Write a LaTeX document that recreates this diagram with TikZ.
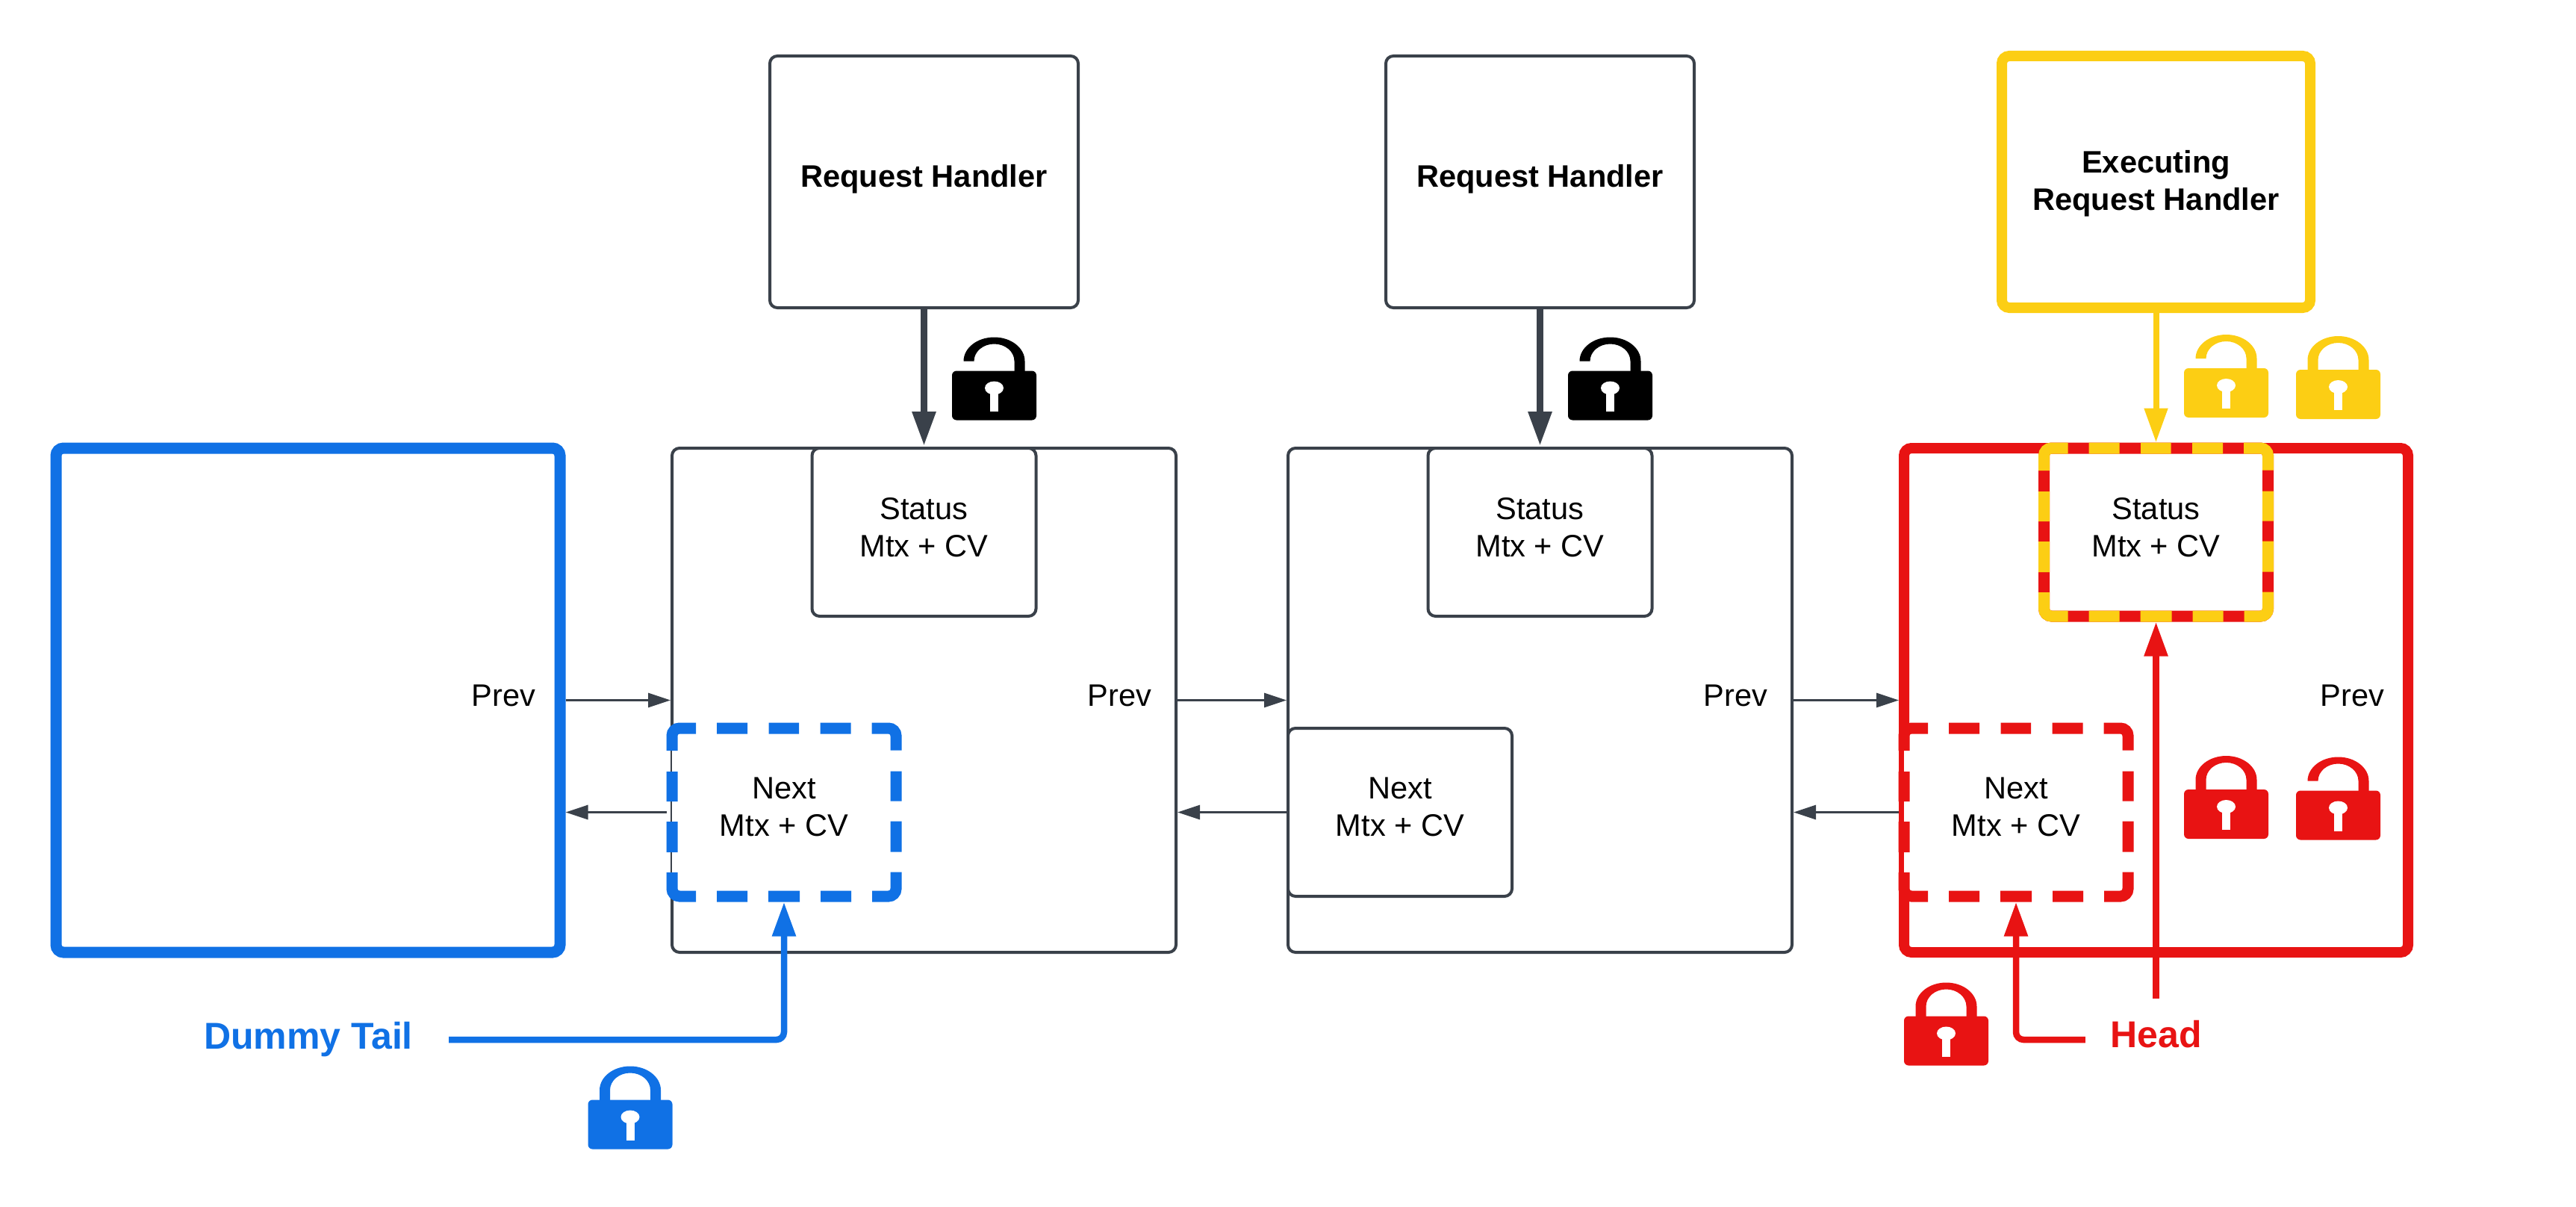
\documentclass[tikz,border=0pt]{standalone}
\usepackage{fontspec}
\setmainfont{Liberation Sans}
\usetikzlibrary{positioning, arrows.meta}

\definecolor{boxgray}{HTML}{3A414A}
\definecolor{tailblue}{HTML}{1071E5}
\definecolor{headred}{HTML}{E81313}
\definecolor{execyellow}{HTML}{FCCE14}

\tikzset{
  plaintext/.style={font=\fontsize{20.8}{25}\selectfont, align=center, text=black},
  listbox/.style={draw=boxgray, line width=2pt, rounded corners=5pt,
    minimum width=337.5pt, minimum height=337.5pt},
  handlerbox/.style={listbox, font=\fontsize{20.8}{25}\selectfont\bfseries, align=center,
    minimum width=206.5pt, minimum height=168.5pt},
  mtxbox/.style={plaintext, rounded corners=5pt, fill=white, outer sep=0pt, text depth=7pt,
    minimum width=150pt, minimum height=112.5pt},
  thinarrow/.style={draw=boxgray, line width=1.5pt, -{Triangle[length=15pt,width=9.5pt]}},
  thickarrow/.style={line width=4.25pt, rounded corners=5pt, -{Triangle[length=23pt,width=15pt]}},
  biglabel/.style={font=\fontsize{25}{28}\selectfont\bfseries, inner sep=0pt},
  % one pattern for the whole outline, starting at the middle of the top side
  sidedash/.style={line width=7.5pt, rounded corners=5pt,
    dash pattern=on 10.25pt off 14.25pt on 20.5pt off 14pt on 28.85pt off 14pt on 20pt off 13.5pt
    on 20.5pt off 13.5pt on 29.85pt off 14pt on 20.5pt off 14pt on 21pt off 14pt on 20.5pt off 14pt
    on 29.85pt off 13.5pt on 20.5pt off 13.5pt on 20pt off 14pt on 28.85pt off 14pt on 20.5pt
    off 14.25pt on 10.25pt off 0pt},
  pics/lockshut/.style={code={
    \fill[#1] (-20.5pt,16pt) -- (-20.5pt,23pt)
      arc[start angle=180, delta angle=-180, x radius=20.5pt, y radius=16pt]
      -- (20.5pt,16pt) -- (13.5pt,16pt) -- (13.5pt,23pt)
      arc[start angle=0, delta angle=180, x radius=13.5pt, y radius=11.5pt]
      -- (-13.5pt,16pt) -- cycle;
    \fill[#1, rounded corners=3pt] (-28.25pt,-16.5pt) rectangle (28.25pt,16.5pt);
    \fill[white] (0pt,5pt) ellipse[x radius=6.25pt, y radius=4.5pt];
    \fill[white] (-2.75pt,-10.5pt) rectangle (2.75pt,5pt);
  }},
  pics/lockopen/.style={code={
    \fill[#1] (-20.5pt,23pt) arc[start angle=180, delta angle=-180, x radius=20.5pt, y radius=16pt]
      -- (20.5pt,16pt) -- (13.5pt,16pt) -- (13.5pt,23pt)
      arc[start angle=0, delta angle=180, x radius=13.5pt, y radius=11.5pt] -- cycle;
    \fill[#1, rounded corners=3pt] (-28.25pt,-16.5pt) rectangle (28.25pt,16.5pt);
    \fill[white] (0pt,5pt) ellipse[x radius=6.25pt, y radius=4.5pt];
    \fill[white] (-2.75pt,-10.5pt) rectangle (2.75pt,5pt);
  }},
}

\newcommand{\mtxoutline}[2]{%
  \draw[#2] (#1.north) -| (#1.west) |- (#1.south) -| (#1.east) |- (#1.north);}

\begin{document}
\begin{tikzpicture}
\useasboundingbox (0pt,0pt) rectangle (1725pt,-808pt);

% list nodes
\node[listbox, draw=tailblue, line width=7.5pt] (n1) at (206.25pt,-468.75pt) {};
\node[listbox, right=70.25pt of n1] (n2) {};
\node[listbox, right=73pt of n2] (n3) {};
\node[listbox, draw=headred, line width=7pt, right=70.5pt of n3] (n4) {};

% request handlers
\node[handlerbox, text depth=8.5pt, above=92pt of n2] (h2) {Request Handler};
\node[handlerbox, text depth=8.5pt, above=92pt of n3] (h3) {Request Handler};
\node[handlerbox, text depth=2pt, draw=execyellow, line width=7pt, above=87pt of n4] (h4) {Executing\\Request Handler};

% status mutexes
\node[mtxbox, draw=boxgray, line width=2pt] (s2) at ([yshift=112.5pt]n2.center) {Status\\Mtx + CV};
\node[mtxbox, draw=boxgray, line width=2pt] (s3) at ([yshift=112.5pt]n3.center) {Status\\Mtx + CV};
\node[mtxbox, draw=headred, line width=7.5pt] (s4) at ([yshift=112.5pt]n4.center) {Status\\Mtx + CV};
\mtxoutline{s4}{sidedash, execyellow}

% next mutexes
\node[mtxbox] (x2) at ([shift={(-93.75pt,-75pt)}]n2.center) {Next\\Mtx + CV};
\node[mtxbox, draw=boxgray, line width=2pt] (x3) at ([shift={(-93.75pt,-75pt)}]n3.center) {Next\\Mtx + CV};
\node[mtxbox] (x4) at ([shift={(-93.75pt,-75pt)}]n4.center) {Next\\Mtx + CV};
\mtxoutline{x2}{sidedash, tailblue}
\mtxoutline{x4}{sidedash, headred}

% prev labels
\node[plaintext, inner sep=0pt, anchor=base east] (p1) at ([shift={(-20pt,-4pt)}]n1.east) {Prev};
\node[plaintext, inner sep=0pt, anchor=base east] (p2) at ([shift={(-17.25pt,-4pt)}]n2.east) {Prev};
\node[plaintext, inner sep=0pt, anchor=base east] (p3) at ([shift={(-17.25pt,-4pt)}]n3.east) {Prev};
\node[plaintext, inner sep=0pt, anchor=base east] (p4) at ([shift={(-19.25pt,-4pt)}]n4.east) {Prev};

% links between the list nodes
\draw[thinarrow] (n1.east) -- (n2.west);
\draw[thinarrow] (n2.east) -- (n3.west);
\draw[thinarrow] (n3.east) -- (n4.west);
\draw[thinarrow, shorten <=3.75pt] (x2.west) -- (n1.east |- x2.west);
\draw[thinarrow] (x3.west) -- (n2.east |- x3.west);
\draw[thinarrow, shorten <=3.75pt] (x4.west) -- (n3.east |- x4.west);

% handlers to status
\draw[thickarrow, draw=boxgray, line width=4.5pt, shorten >=1.5pt] (h2.south) -- (s2.north);
\draw[thickarrow, draw=boxgray, line width=4.5pt, shorten >=1.5pt] (h3.south) -- (s3.north);
\draw[thickarrow, draw=execyellow, line width=4pt, shorten >=3.75pt] (h4.south) -- (s4.north);

% tail and head pointers
\node[biglabel, text=tailblue] (taillabel) at (206.5pt,-696pt) {Dummy Tail};
\coordinate[right=24pt of taillabel] (tailstart);
\draw[thickarrow, draw=tailblue, shorten >=3.75pt] (tailstart) -| (x2.south);

\node[biglabel, text=headred] (headlabel) at (1443.75pt,-692.5pt) {Head};
\coordinate[below left=3.5pt and 16.5pt of headlabel.west] (headstart);
\draw[thickarrow, draw=headred, shorten >=3.75pt] (headstart) -| (x4.south);
\coordinate[below=27.5pt of n4] (headup);
\draw[thickarrow, draw=headred, shorten >=3.75pt] (headup) -- (s4.south);

% locks
\pic (l1) at (665.75pt,-264.75pt) {lockopen=black};
\pic (l2) at (1078.25pt,-264.75pt) {lockopen=black};
\pic (l3) at (1490.75pt,-263pt) {lockopen=execyellow};
\pic (l4) at (1565.75pt,-264pt) {lockshut=execyellow};
\pic (l5) at (1490.75pt,-545pt) {lockshut=headred};
\pic (l6) at (1565.75pt,-545.75pt) {lockopen=headred};
\pic (l7) at (1303.25pt,-696.75pt) {lockshut=headred};
\pic (l8) at (422pt,-752.75pt) {lockshut=tailblue};
\end{tikzpicture}
\end{document}
